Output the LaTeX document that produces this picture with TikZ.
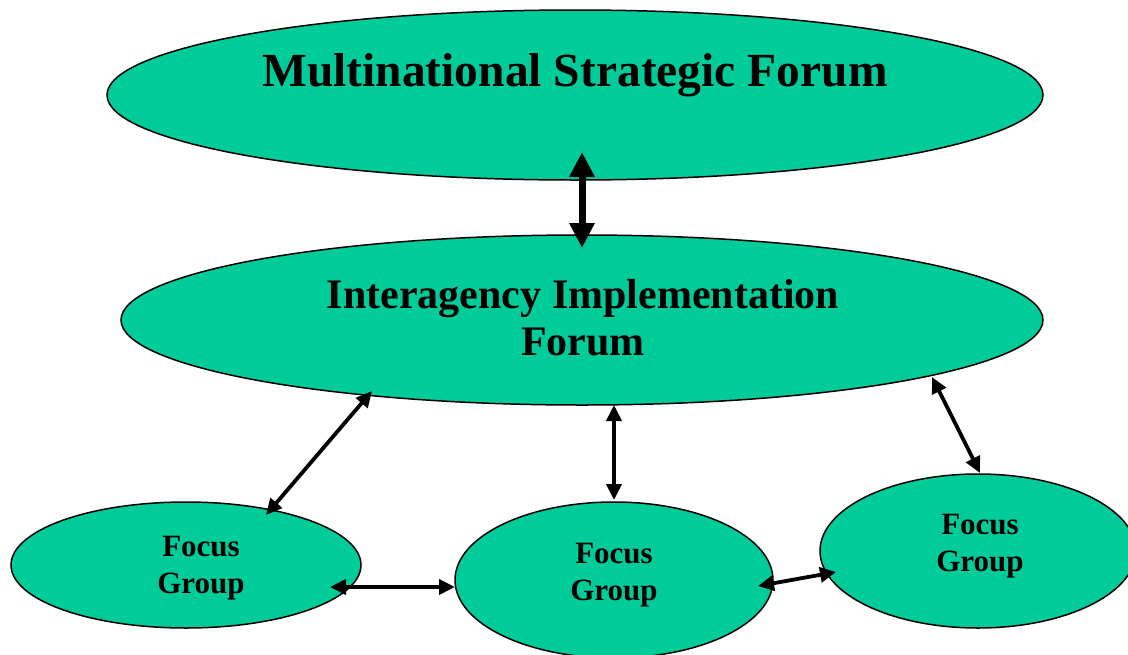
\documentclass[tikz,border=0pt]{standalone}
\usepackage{fontspec}
\setmainfont{Liberation Serif}
\usetikzlibrary{shapes.geometric,arrows.meta,calc}
\definecolor{forumgreen}{RGB}{0,204,153}
\tikzset{
  oval/.style={ellipse,draw=black,line width=1.5pt,fill=forumgreen,inner sep=0pt,outer sep=0pt},
  lbl/.style={font=\bfseries,align=center,inner sep=0pt},
  link/.style={line width=3.8pt,{Triangle[width=15pt,length=16pt]}-{Triangle[width=15pt,length=16pt]}},
  biglink/.style={line width=7pt,{Triangle[width=24pt,length=25pt]}-{Triangle[width=24pt,length=25pt]}}
}
\begin{document}
\begin{tikzpicture}[x=1pt,y=-1pt]
\useasboundingbox (0,0) rectangle (1128,654);
\node[oval,minimum width=936pt,minimum height=170pt] (top) at (575,95) {};
\node[oval,minimum width=922pt,minimum height=170pt] (mid) at (582,320) {};
\node[oval,minimum width=350pt,minimum height=126pt] (fg1) at (186,565) {};
\node[oval,minimum width=318pt,minimum height=156pt] (fg2) at (614,580) {};
\node[oval,minimum width=316pt,minimum height=154pt] (fg3) at (978,551) {};
\node[lbl,font=\fontsize{47.5}{54}\selectfont\bfseries] (topT) at (575,75) {Multinational Strategic Forum};
\node[lbl,font=\fontsize{42}{47}\selectfont\bfseries] (midT) at (583,318) {Interagency Implementation\\Forum};
\node[lbl,font=\fontsize{31}{37}\selectfont\bfseries] (fg1T) at (201,568) {Focus\\Group};
\node[lbl,font=\fontsize{31}{37}\selectfont\bfseries] (fg2T) at (614,575) {Focus\\Group};
\node[lbl,font=\fontsize{31}{37}\selectfont\bfseries] (fg3T) at (980,546) {Focus\\Group};
\draw[biglink] ($(top.center)+(7,57)$) -- ($(mid.center)+(0,-72)$);
\draw[link] ($(mid.center)+(-210,71)$) -- ($(fg1.center)+(80,-50)$);
\draw[link] ($(mid.center)+(32,85)$) -- ($(fg2.center)+(0,-80)$);
\draw[link] ($(mid.center)+(350,57)$) -- ($(fg3.center)+(2,-78)$);
\draw[link] ($(fg1.center)+(144,22)$) -- ($(fg2.center)+(-159,7)$);
\draw[link] ($(fg2.center)+(144,6)$) -- ($(fg3.center)+(-142,21)$);
\end{tikzpicture}
\end{document}
